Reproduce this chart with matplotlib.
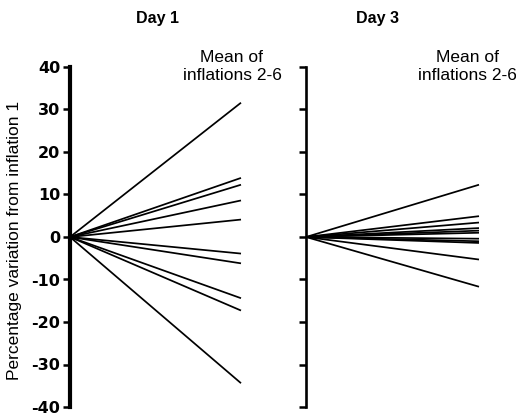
import matplotlib
matplotlib.use("Agg")
import matplotlib.pyplot as plt

plt.rcParams['font.family'] = ['Liberation Sans', 'DejaVu Sans']

# mean of inflations 2-6, % change from inflation 1, one entry per subject
day1 = [31.6, 13.9, 12.3, 8.6, 4.1, -3.9, -6.2, -14.4, -17.3, -34.4]
day3 = [12.3, 4.9, 3.4, 2.1, 1.5, 1.0, -0.4, -1.0, -1.4, -5.3, -11.7]
yticks = [-40, -30, -20, -10, 0, 10, 20, 30, 40]

W, H = 516, 415
fig = plt.figure(figsize=(W / 100, H / 100), dpi=100)

y_top, y_bot = 67, 407
bottom = 1 - y_bot / H
height = (y_bot - y_top) / H
ax1 = fig.add_axes([70 / W, bottom, (241 - 70) / W, height])
ax3 = fig.add_axes([306 / W, bottom, (479 - 306) / W, height])

for ax, vals, lw_spine in [(ax1, day1, 3.0), (ax3, day3, 1.9)]:
    for v in vals:
        ax.plot([0, 1], [0, v], color='black', lw=1.25, clip_on=False,
                solid_capstyle='butt')
    ax.set_xlim(0, 1)
    ax.set_ylim(-40, 40)
    for s in ['top', 'right', 'bottom']:
        ax.spines[s].set_visible(False)
    ax.spines['left'].set_linewidth(lw_spine)
    ax.set_xticks([])
    ax.set_yticks(yticks)
    ax.tick_params(axis='y', direction='out', length=5, width=1.8, pad=2)

ax1.set_yticklabels([str(t) for t in yticks], fontsize=11.5, fontweight='bold',
                    family='DejaVu Sans')
ax3.set_yticklabels([])
ax1.set_ylabel('Percentage variation from inflation 1', fontsize=12.5)
ax1.yaxis.set_label_coords(-48 / 171, 0.49)

for x, day in [(157, 'Day 1'), (377, 'Day 3')]:
    fig.text(x / W, 1 - 19 / H, day, ha='center', va='center',
             fontsize=11.5, fontweight='bold')
for x in [232, 467]:
    fig.text(x / W, 1 - 66 / H, 'Mean of\ninflations 2-6', ha='center',
             va='center', fontsize=12.5, linespacing=1.25)

fig.savefig('out.png', dpi=100)
